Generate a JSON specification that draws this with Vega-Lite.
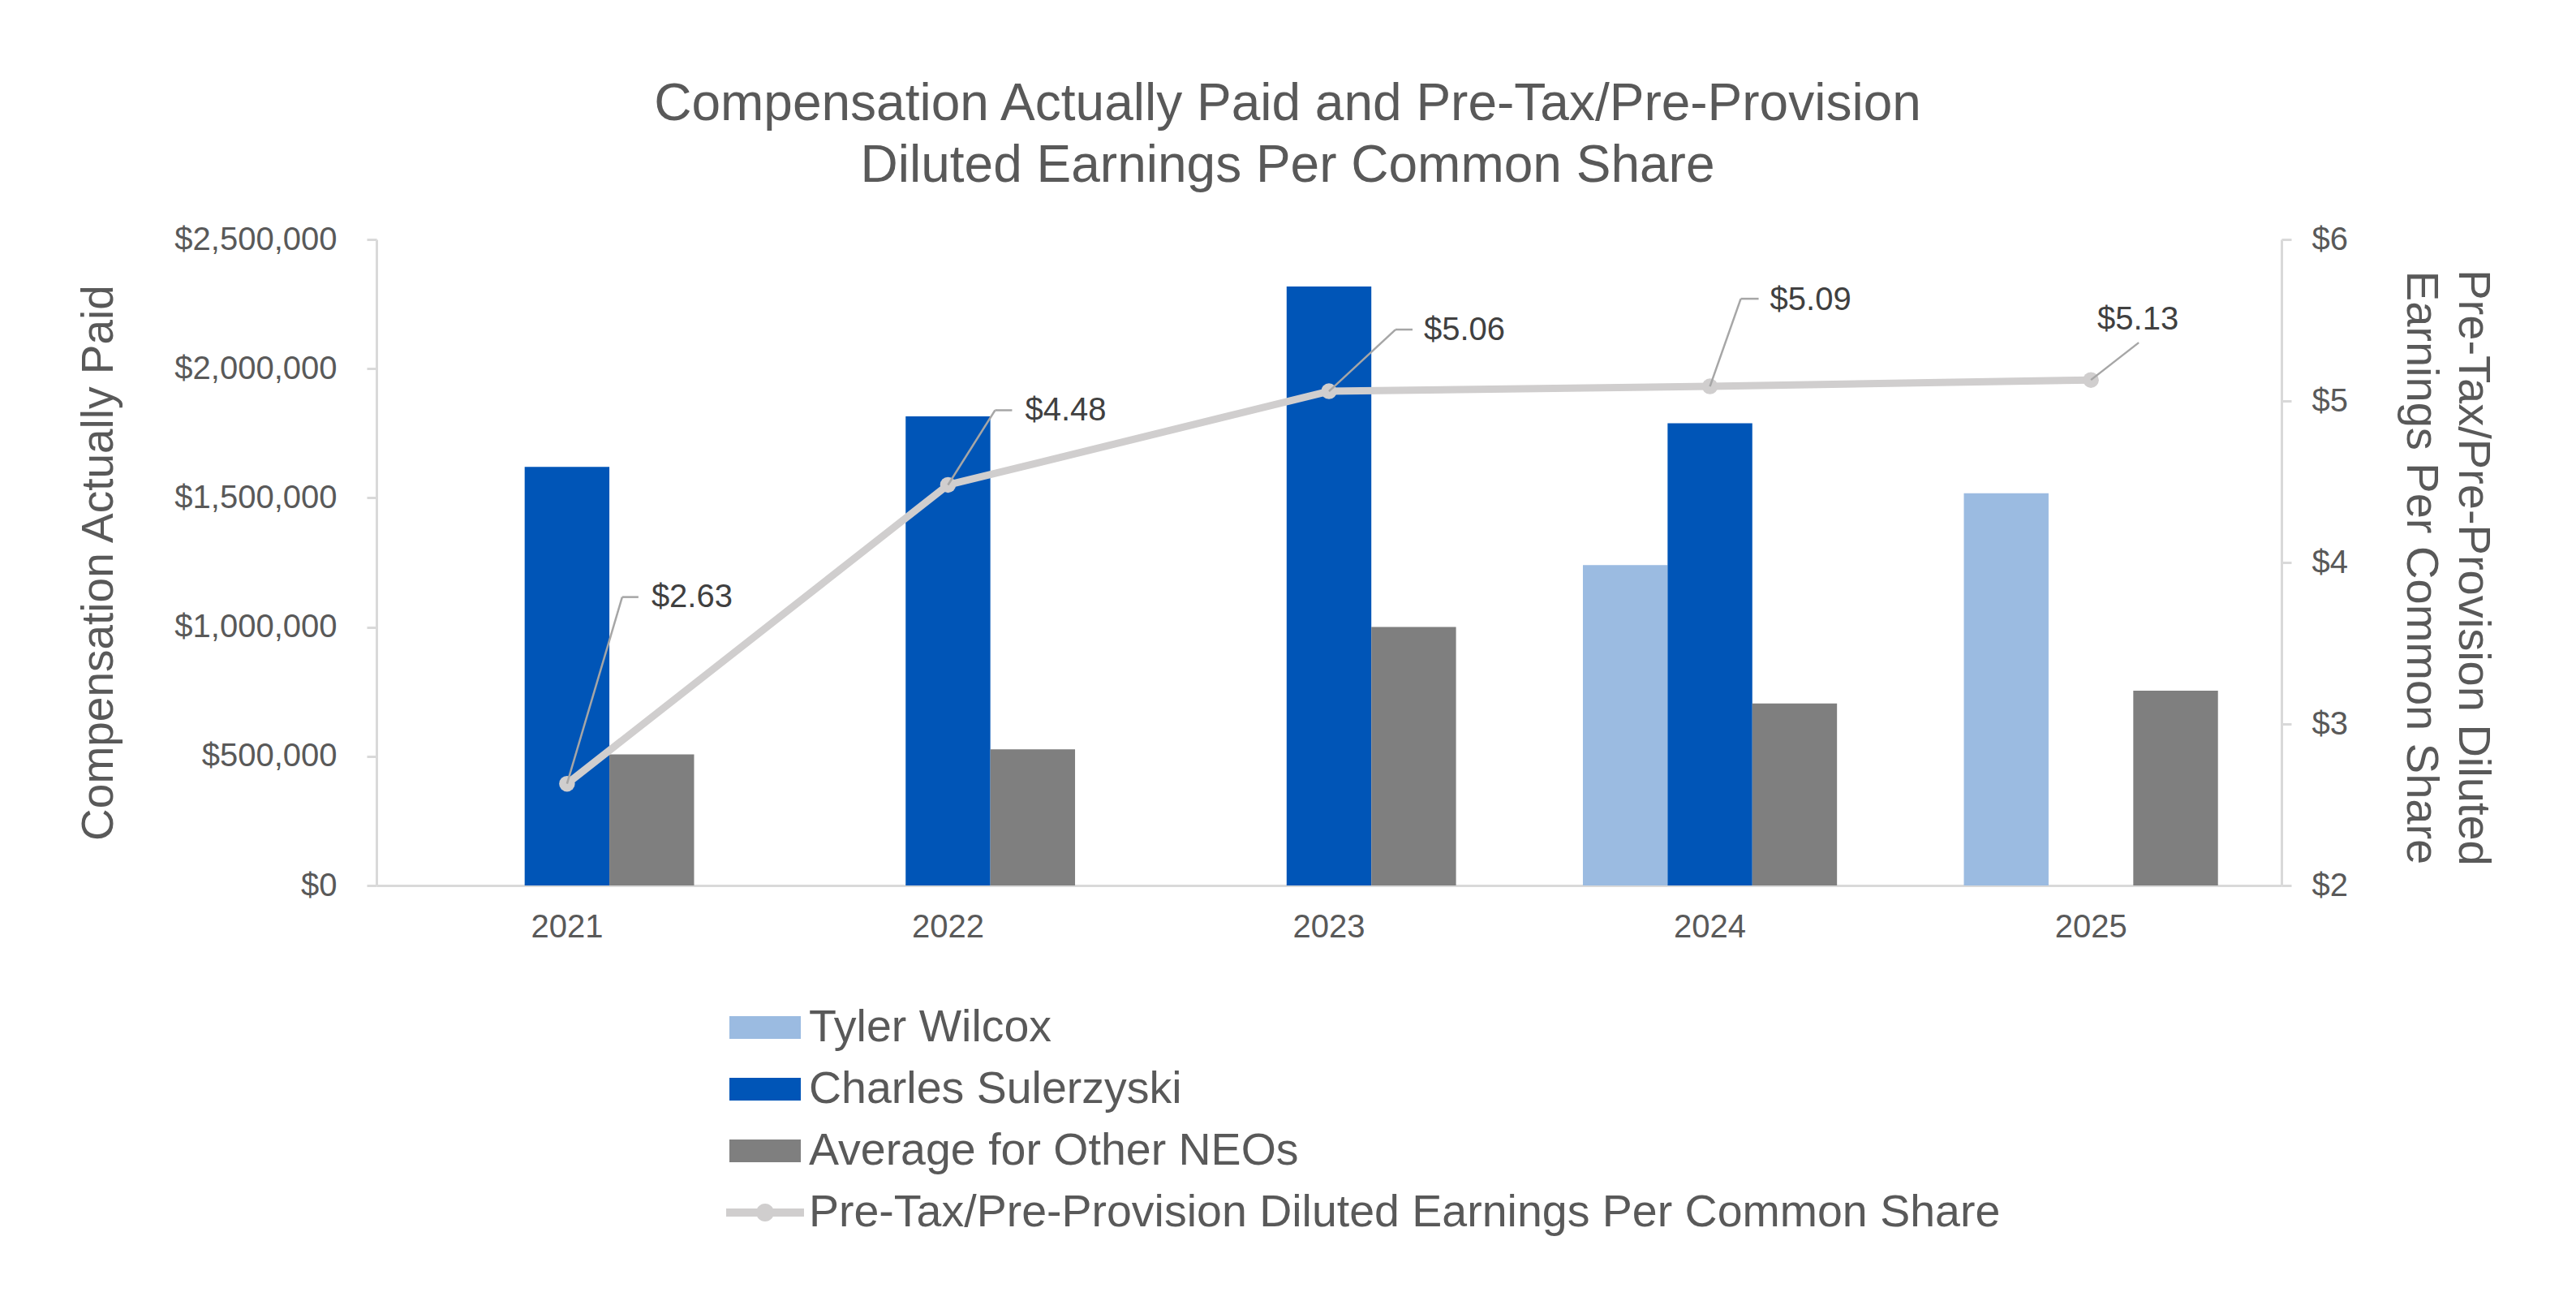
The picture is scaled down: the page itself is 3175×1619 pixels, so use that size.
{
  "$schema": "https://vega.github.io/schema/vega-lite/v6.json",
  "width": 2348,
  "height": 796,
  "autosize": {"type": "none"},
  "padding": {"left": 464, "top": 295, "right": 363, "bottom": 528},
  "background": "white",
  "config": {"view": {"stroke": null}, "font": "Liberation Sans"},
  "title": {
    "text": ["Compensation Actually Paid and Pre-Tax/Pre-Provision", "Diluted Earnings Per Common Share"],
    "fontSize": 64,
    "font": "Liberation Sans",
    "fontWeight": "normal",
    "color": "#595959",
    "lineHeight": 76,
    "anchor": "middle",
    "frame": "group",
    "dx": -51,
    "offset": 38
  },
  "datasets": {
    "comp": [
      {"year": "2021", "series": "Charles Sulerzyski", "value": 1620000},
      {"year": "2021", "series": "Average for Other NEOs", "value": 507000},
      {"year": "2022", "series": "Charles Sulerzyski", "value": 1815000},
      {"year": "2022", "series": "Average for Other NEOs", "value": 527000},
      {"year": "2023", "series": "Charles Sulerzyski", "value": 2318000},
      {"year": "2023", "series": "Average for Other NEOs", "value": 1000000},
      {"year": "2024", "series": "Tyler Wilcox", "value": 1240000},
      {"year": "2024", "series": "Charles Sulerzyski", "value": 1789000},
      {"year": "2024", "series": "Average for Other NEOs", "value": 704000},
      {"year": "2025", "series": "Tyler Wilcox", "value": 1518000},
      {"year": "2025", "series": "Average for Other NEOs", "value": 754000}
    ],
    "eps": [
      {"year": "2021", "eps": 2.63},
      {"year": "2022", "eps": 4.48},
      {"year": "2023", "eps": 5.06},
      {"year": "2024", "eps": 5.09},
      {"year": "2025", "eps": 5.13}
    ]
  },
  "layer": [
    {
      "data": {"name": "comp"},
      "mark": {"type": "bar"},
      "encoding": {
        "x": {
          "field": "year", "type": "nominal",
          "scale": {"domain": ["2021", "2022", "2023", "2024", "2025"], "paddingInner": 0.333, "paddingOuter": 0.1667},
          "axis": {
            "title": null, "ticks": false, "tickSize": 0, "labelAngle": 0, "labelPadding": 31,
            "labelFont": "Liberation Sans", "labelFontSize": 40, "labelColor": "#595959",
            "domainColor": "#D9D9D9", "domainWidth": 3, "grid": false
          }
        },
        "xOffset": {
          "field": "series", "type": "nominal",
          "scale": {"domain": ["Tyler Wilcox", "Charles Sulerzyski", "Average for Other NEOs"], "paddingInner": 0, "paddingOuter": 0}
        },
        "y": {
          "field": "value", "type": "quantitative",
          "scale": {"domain": [0, 2500000], "nice": false},
          "axis": {
            "orient": "left", "values": [0, 500000, 1000000, 1500000, 2000000, 2500000], "format": "$,.0f",
            "grid": false, "domainColor": "#D9D9D9", "domainWidth": 3, "tickColor": "#D9D9D9", "tickWidth": 3, "tickSize": 12,
            "labelFont": "Liberation Sans", "labelFontSize": 40, "labelColor": "#595959", "labelPadding": 37, "labelLimit": 1000,
            "title": "Compensation Actually Paid", "titleFont": "Liberation Sans", "titleFontSize": 55, "titleFontWeight": "normal",
            "titleColor": "#595959", "titleX": -326, "titleY": 398, "titleAngle": -90, "titleBaseline": "alphabetic", "titleAlign": "center"
          }
        },
        "color": {
          "field": "series", "type": "nominal",
          "scale": {
            "domain": ["Tyler Wilcox", "Charles Sulerzyski", "Average for Other NEOs", "Pre-Tax/Pre-Provision Diluted Earnings Per Common Share"],
            "range": ["#9BBBE1", "#0055B7", "#7F7F7F", "#D0CECE"]
          },
          "legend": {
            "orient": "none", "legendX": 435, "legendY": 927, "direction": "vertical", "title": null,
            "padding": 0, "rowPadding": 3, "labelOffset": 10,
            "symbolSize": 7744, "symbolType": "M-1,-0.318H1V0.318H-1Z", "symbolStrokeWidth": 0,
            "labelFont": "Liberation Sans", "labelFontSize": 55.5, "labelColor": "#595959", "labelLimit": 3000,
            "encode": {
              "symbols": {
                "update": {
                  "shape": [
                    {"test": "datum.value === 'Pre-Tax/Pre-Provision Diluted Earnings Per Common Share'", "value": "M-1.09,-0.114H1.09V0.114H-1.09Z M-0.25,0A0.25,0.25,0,1,1,0.25,0A0.25,0.25,0,1,1,-0.25,0Z"},
                    {"value": "M-1,-0.318H1V0.318H-1Z"}
                  ],
                  "fill": {"scale": "color", "field": "value"},
                  "fillOpacity": {"value": 1},
                  "opacity": {"value": 1},
                  "strokeWidth": {"value": 0}
                }
              }
            }
          }
        }
      }
    },
    {
      "data": {"name": "eps"},
      "encoding": {
        "x": {"field": "year", "type": "nominal"},
        "y": {
          "field": "eps", "type": "quantitative",
          "scale": {"domain": [2, 6], "nice": false},
          "axis": {
            "orient": "right", "values": [2, 3, 4, 5, 6], "format": "$.0f",
            "grid": false, "domainColor": "#D9D9D9", "domainWidth": 3, "tickColor": "#D9D9D9", "tickWidth": 3, "tickSize": 12,
            "labelFont": "Liberation Sans", "labelFontSize": 40, "labelColor": "#595959", "labelPadding": 25,
            "title": ["Pre-Tax/Pre-Provision Diluted", "Earnings Per Common Share"],
            "titleFont": "Liberation Sans", "titleFontSize": 56, "titleFontWeight": "normal", "titleColor": "#595959",
            "titleX": 218, "titleY": 404, "titleAngle": 90, "titleBaseline": "alphabetic", "titleAlign": "center", "titleLineHeight": 64
          }
        }
      },
      "layer": [
        {
          "mark": {"type": "line", "strokeWidth": 9, "strokeCap": "round", "strokeJoin": "round"},
          "encoding": {"color": {"datum": "Pre-Tax/Pre-Provision Diluted Earnings Per Common Share", "type": "nominal"}}
        },
        {
          "mark": {"type": "point", "filled": true, "size": 380, "opacity": 1},
          "encoding": {"color": {"datum": "Pre-Tax/Pre-Provision Diluted Earnings Per Common Share", "type": "nominal"}}
        },
        {
          "transform": [{"filter": "datum.year == '2021'"}],
          "layer": [
            {"mark": {"type": "rule", "color": "#A6A6A6", "strokeWidth": 2.5, "x2Offset": 68, "y2Offset": -230}, "encoding": {"x2": {"field": "year"}, "y2": {"field": "eps"}}},
            {"mark": {"type": "rule", "color": "#A6A6A6", "strokeWidth": 2.5, "xOffset": 68, "yOffset": -230, "x2Offset": 88, "y2Offset": -230}, "encoding": {"x2": {"field": "year"}, "y2": {"field": "eps"}}},
            {"mark": {"type": "text", "align": "left", "baseline": "middle", "dx": 104, "dy": -230, "fontSize": 40, "color": "#404040", "font": "Liberation Sans"}, "encoding": {"text": {"field": "eps", "type": "quantitative", "format": "$.2f"}}}
          ]
        },
        {
          "transform": [{"filter": "datum.year == '2022'"}],
          "layer": [
            {"mark": {"type": "rule", "color": "#A6A6A6", "strokeWidth": 2.5, "x2Offset": 58, "y2Offset": -92}, "encoding": {"x2": {"field": "year"}, "y2": {"field": "eps"}}},
            {"mark": {"type": "rule", "color": "#A6A6A6", "strokeWidth": 2.5, "xOffset": 58, "yOffset": -92, "x2Offset": 79, "y2Offset": -92}, "encoding": {"x2": {"field": "year"}, "y2": {"field": "eps"}}},
            {"mark": {"type": "text", "align": "left", "baseline": "middle", "dx": 95, "dy": -91, "fontSize": 40, "color": "#404040", "font": "Liberation Sans"}, "encoding": {"text": {"field": "eps", "type": "quantitative", "format": "$.2f"}}}
          ]
        },
        {
          "transform": [{"filter": "datum.year == '2023'"}],
          "layer": [
            {"mark": {"type": "rule", "color": "#A6A6A6", "strokeWidth": 2.5, "x2Offset": 82, "y2Offset": -76}, "encoding": {"x2": {"field": "year"}, "y2": {"field": "eps"}}},
            {"mark": {"type": "rule", "color": "#A6A6A6", "strokeWidth": 2.5, "xOffset": 82, "yOffset": -76, "x2Offset": 103, "y2Offset": -76}, "encoding": {"x2": {"field": "year"}, "y2": {"field": "eps"}}},
            {"mark": {"type": "text", "align": "left", "baseline": "middle", "dx": 117, "dy": -75, "fontSize": 40, "color": "#404040", "font": "Liberation Sans"}, "encoding": {"text": {"field": "eps", "type": "quantitative", "format": "$.2f"}}}
          ]
        },
        {
          "transform": [{"filter": "datum.year == '2024'"}],
          "layer": [
            {"mark": {"type": "rule", "color": "#A6A6A6", "strokeWidth": 2.5, "x2Offset": 38, "y2Offset": -108}, "encoding": {"x2": {"field": "year"}, "y2": {"field": "eps"}}},
            {"mark": {"type": "rule", "color": "#A6A6A6", "strokeWidth": 2.5, "xOffset": 38, "yOffset": -108, "x2Offset": 60, "y2Offset": -108}, "encoding": {"x2": {"field": "year"}, "y2": {"field": "eps"}}},
            {"mark": {"type": "text", "align": "left", "baseline": "middle", "dx": 74, "dy": -106, "fontSize": 40, "color": "#404040", "font": "Liberation Sans"}, "encoding": {"text": {"field": "eps", "type": "quantitative", "format": "$.2f"}}}
          ]
        },
        {
          "transform": [{"filter": "datum.year == '2025'"}],
          "layer": [
            {"mark": {"type": "rule", "color": "#A6A6A6", "strokeWidth": 2.5, "x2Offset": 59, "y2Offset": -46}, "encoding": {"x2": {"field": "year"}, "y2": {"field": "eps"}}},
            {"mark": {"type": "text", "align": "center", "baseline": "middle", "dx": 58, "dy": -74, "fontSize": 40, "color": "#404040", "font": "Liberation Sans"}, "encoding": {"text": {"field": "eps", "type": "quantitative", "format": "$.2f"}}}
          ]
        }
      ]
    }
  ],
  "resolve": {"scale": {"y": "independent"}}
}
